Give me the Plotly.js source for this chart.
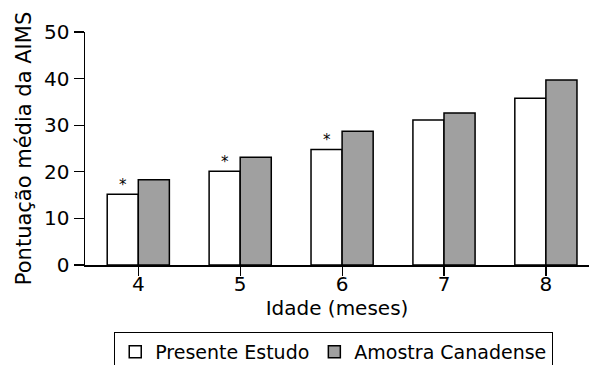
<!DOCTYPE html>
<html>
<head>
<meta charset="utf-8">
<script src="https://cdn.plot.ly/plotly-3.0.1.min.js"></script>
<style>html,body{margin:0;padding:0;background:#fff;overflow:hidden;width:589px;height:365px}#chart{width:589px;height:385px}</style>
</head>
<body>
<div id="chart"></div>
<script>
const ages = ['4', '5', '6', '7', '8'];
const presenteEstudo = [15.2, 20.1, 24.8, 31.1, 35.8];
const amostraCanadense = [18.3, 23.1, 28.7, 32.6, 39.7];
const significant = [true, true, true, false, false];
const seriesNames = ['Presente Estudo', 'Amostra Canadense'];
const yTicks = [0, 10, 20, 30, 40, 50];

const FONT = '"DejaVu Sans", sans-serif';
const bargap = 0.39;
const barW = (1 - bargap) / 2;

const traces = [
  {type: 'bar', name: seriesNames[0], x: ages.map(Number), y: presenteEstudo,
   marker: {color: '#ffffff', line: {color: '#000', width: 1.5}}},
  {type: 'bar', name: seriesNames[1], x: ages.map(Number), y: amostraCanadense,
   marker: {color: '#a0a0a0', line: {color: '#000', width: 1.5}}}
];

const annotations = ages.map((a, i) => significant[i] ? {
  x: Number(a) - barW / 2, y: presenteEstudo[i], xref: 'x', yref: 'y',
  text: '*', showarrow: false, yanchor: 'bottom', yshift: -2,
  font: {family: FONT, size: 15, color: '#000'}
} : null).filter(Boolean);

const H = 385;
const plotBottom = 265, plotTop = 32, legendTop = 332;

const layout = {
  width: 589, height: H,
  margin: {l: 85, r: 0, t: plotTop, b: H - plotBottom},
  paper_bgcolor: '#fff', plot_bgcolor: '#fff',
  font: {family: FONT, size: 20, color: '#000'},
  barmode: 'group', bargap: bargap, bargroupgap: 0,
  showlegend: true,
  legend: {orientation: 'h', x: 0.058, xanchor: 'left',
           y: -(legendTop - plotBottom) / (plotBottom - plotTop), yanchor: 'top',
           bordercolor: '#000', borderwidth: 1, font: {family: FONT, size: 19, color: '#000'},
           itemwidth: 30, tracegroupgap: 0},
  xaxis: {range: [3.477, 8.423], tickvals: ages.map(Number), ticktext: ages,
          ticks: 'outside', tickson: 'boundaries', ticklen: 9, tickwidth: 1.2, tickcolor: '#000',
          ticklabelstandoff: -9,
          showline: true, linecolor: '#000', linewidth: 1.5, showgrid: false, zeroline: false,
          title: {text: 'Idade (meses)', standoff: 4, font: {family: FONT, size: 20}},
          tickfont: {family: FONT, size: 20}},
  yaxis: {range: [0, 50], tickvals: yTicks,
          ticks: 'outside', ticklen: 10, tickwidth: 1.2, tickcolor: '#000',
          showline: true, linecolor: '#000', linewidth: 1.5, showgrid: false, zeroline: false,
          title: {text: 'Pontuação média da AIMS', standoff: 6, font: {family: FONT, size: 21}},
          tickfont: {family: FONT, size: 20}},
  annotations: annotations
};

Plotly.newPlot('chart', traces, layout, {displayModeBar: false, staticPlot: true});
</script>
</body>
</html>
